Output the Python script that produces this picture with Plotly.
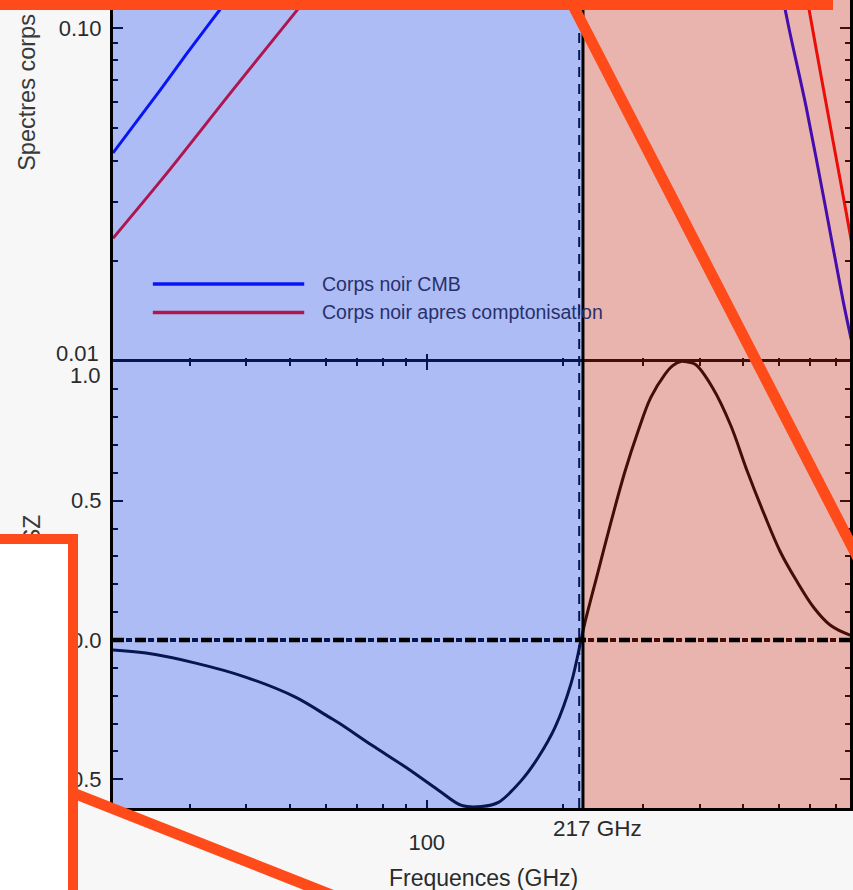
import numpy as np
import plotly.graph_objects as go

# ---------------------------------------------------------------------------
# Data (frequencies in GHz, spectra normalised to their maximum)
# ---------------------------------------------------------------------------
cmb_freq = [20.3, 25.8, 29.5, 35.3, 40, 50, 80, 130, 200, 300, 400, 500, 560,
            618.3, 634.2, 687.6, 756.9, 829.3, 859.3, 880]
cmb_spec = [0.0422, 0.0651, 0.0836, 0.1156, 0.145, 0.25, 0.55, 0.85, 1.0, 0.9,
            0.65, 0.42, 0.23, 0.1133, 0.0958, 0.0580, 0.0295, 0.01525, 0.0121,
            0.0104]

comp_freq = [20.3, 26.7, 37.3, 51.8, 60, 90, 140, 200, 300, 400, 500, 600, 650,
             698.2, 753.1, 833.5, 859.3, 880]
comp_spec = [0.0234, 0.0367, 0.0651, 0.1133, 0.145, 0.3, 0.55, 0.72, 0.85, 0.8,
             0.6, 0.33, 0.2, 0.1133, 0.0642, 0.0304, 0.0242, 0.020]

tsz_freq = [20.3, 24.0, 30.9, 39.8, 51.3, 60.9, 64.0, 75.7, 89.9, 106.3, 119.4,
            132.1, 143.9, 161.8, 176.3, 192.0, 208.3, 219.0, 223.6, 238.8, 255.1,
            273.7, 292.4, 312.3, 335.2, 349.1, 363.4, 376.5, 392.1, 427.4, 468.1,
            510.3, 556.1, 602.9, 657.0, 716.1, 776.6, 859.3, 880]
tsz_shape = [-0.036, -0.047, -0.083, -0.133, -0.205, -0.277, -0.298, -0.378,
             -0.457, -0.540, -0.594, -0.598, -0.583, -0.504, -0.421, -0.313,
             -0.155, 0.0, 0.065, 0.245, 0.424, 0.604, 0.748, 0.871, 0.953, 0.985,
             1.0, 0.998, 0.989, 0.906, 0.773, 0.604, 0.450, 0.317, 0.209, 0.115,
             0.054, 0.018, 0.014]

series_names = ["Corps noir CMB", "Corps noir apres comptonisation"]

null_freq = 217.0      # tSZ null frequency
split_freq = 221.2     # boundary between decrement / increment bands
freq_range = [20.3, 859.3]
spec_range = [0.01, 0.12132]
tsz_range = [-0.6032, 1.0]

x_ticks = [100, 1000]
x_tick_text = ["100", ""]
x_minor = [30, 40, 50, 60, 70, 80, 90, 200, 300, 400, 500, 600, 700, 800, 900]
spec_ticks = [0.01, 0.1]
spec_tick_text = ["", "0.10"]
spec_minor = [0.02, 0.03, 0.04, 0.05, 0.06, 0.07, 0.08, 0.09]
tsz_ticks = [-0.5, 0.0, 0.5, 1.0]
tsz_tick_text = ["\u22120.5", "0.0", "0.5", ""]

# ---------------------------------------------------------------------------
# Page geometry
# ---------------------------------------------------------------------------
W, H = 853, 890
L, B = 113, 82
PW, PH = W - L, H - B
SPLIT_Y = 361.5
top_dom = (PH - SPLIT_Y) / PH


def px(xp):
    return (xp - L) / PW


def py(yp):
    return (PH - yp) / PH


FONT = "Liberation Sans, Arial, Helvetica, sans-serif"
TXT = "#2b2b2b"
ORANGE = "#ff4a1a"
BLUE_VEIL = "rgba(24,64,226,0.35)"
RED_VEIL = "rgba(192,41,21,0.35)"

fig = go.Figure()

fig.add_trace(go.Scatter(x=cmb_freq, y=cmb_spec, mode="lines", name=series_names[0],
                         line=dict(color="#0000ff", width=3, shape="spline",
                                   smoothing=0.8),
                         xaxis="x", yaxis="y", showlegend=False))
fig.add_trace(go.Scatter(x=comp_freq, y=comp_spec, mode="lines", name=series_names[1],
                         line=dict(color="#ff0000", width=3, shape="spline",
                                   smoothing=0.8),
                         xaxis="x", yaxis="y", showlegend=False))
fig.add_trace(go.Scatter(x=tsz_freq, y=tsz_shape, mode="lines", name="tSZ",
                         line=dict(color="#000000", width=3, shape="spline"),
                         xaxis="x2", yaxis="y2", showlegend=False))

xlog = [np.log10(v) for v in freq_range]
ylog = [np.log10(v) for v in spec_range]

common_x = dict(type="log", range=xlog, showgrid=False, zeroline=False,
                tickmode="array", tickvals=x_ticks, ticks="inside", ticklen=8,
                tickwidth=2, tickcolor="black",
                minor=dict(tickmode="array", tickvals=x_minor, ticks="inside",
                           ticklen=4, tickwidth=2, tickcolor="black", showgrid=False))

fig.update_layout(
    width=W, height=H,
    margin=dict(l=L, r=0, t=0, b=B, pad=0),
    paper_bgcolor="#f7f7f7", plot_bgcolor="white",
    font=dict(family=FONT, size=22, color=TXT),
    xaxis=dict(common_x, domain=[0, 1], anchor="y", showticklabels=False,
               showline=False),
    yaxis=dict(type="log", range=ylog, domain=[top_dom, 1], anchor="x",
               showgrid=False, zeroline=False, tickmode="array", tickvals=spec_ticks,
               ticktext=spec_tick_text, ticks="inside", ticklen=10, tickwidth=2,
               tickcolor="black", showline=True, linewidth=3, linecolor="black",
               mirror="ticks", ticklabelstandoff=4,
               tickfont=dict(family=FONT, size=22, color=TXT),
               minor=dict(tickmode="array", tickvals=spec_minor, ticks="inside",
                          ticklen=5, tickwidth=2, tickcolor="black")),
    xaxis2=dict(common_x, domain=[0, 1], anchor="y2", ticktext=x_tick_text,
                showline=True, linewidth=3, linecolor="black", mirror="ticks",
                ticklabelstandoff=13,
                tickfont=dict(family=FONT, size=22, color=TXT)),
    yaxis2=dict(range=tsz_range, domain=[0, top_dom], anchor="x2", showgrid=False,
                zeroline=False, tickmode="array", tickvals=tsz_ticks,
                ticktext=tsz_tick_text, ticks="inside", ticklen=10, tickwidth=2,
                tickcolor="black", showline=True, linewidth=3, linecolor="black",
                mirror="ticks", ticklabelstandoff=4,
                tickfont=dict(family=FONT, size=22, color=TXT),
                minor=dict(dtick=0.1, tick0=0, ticks="inside", ticklen=5,
                           tickwidth=2, tickcolor="black")),
)

shapes = []
# legend samples (under the tinted bands)
shapes.append(dict(type="line", xref="paper", yref="paper", x0=px(153), x1=px(305),
                   y0=py(284), y1=py(284), line=dict(color="#0000ff", width=3.5),
                   layer="below"))
shapes.append(dict(type="line", xref="paper", yref="paper", x0=px(153), x1=px(305),
                   y0=py(312.5), y1=py(312.5), line=dict(color="#ff0000", width=3.5),
                   layer="below"))
# null-frequency marker and zero level (tinted)
shapes.append(dict(type="line", xref="x", yref="paper", x0=null_freq, x1=null_freq,
                   y0=0, y1=1, line=dict(color="black", width=2, dash="10px,7px"),
                   layer="below"))
shapes.append(dict(type="line", xref="paper", yref="y2", x0=0, x1=1, y0=0, y1=0,
                   line=dict(color="black", width=4, dash="0px,13px,6px,3px"),
                   layer="below"))
# translucent frequency bands
shapes.append(dict(type="rect", xref="x", yref="paper", x0=1, x1=split_freq, y0=0, y1=1,
                   fillcolor=BLUE_VEIL, line=dict(width=0), layer="above"))
shapes.append(dict(type="rect", xref="x", yref="paper", x0=split_freq, x1=1e5, y0=0, y1=1,
                   fillcolor=RED_VEIL, line=dict(width=0), layer="above"))
# band boundary and zero line on top
shapes.append(dict(type="line", xref="x", yref="paper", x0=split_freq, x1=split_freq,
                   y0=0, y1=1, line=dict(color="black", width=3), layer="above"))
shapes.append(dict(type="line", xref="paper", yref="y2", x0=0, x1=1, y0=0, y1=0,
                   line=dict(color="black", width=4.5, dash="11px,11px"), layer="above"))
# zoom callout connectors
shapes.append(dict(type="line", xref="paper", yref="paper", x0=px(572), y0=py(0),
                   x1=px(862), y1=py(560), line=dict(color=ORANGE, width=11),
                   layer="above"))
shapes.append(dict(type="line", xref="paper", yref="paper", x0=px(73), y0=py(793),
                   x1=px(335), y1=py(896), line=dict(color=ORANGE, width=11),
                   layer="above"))
fig.update_layout(shapes=shapes)

ann = []
ann.append(dict(text="Spectres corps noirs", textangle=-90, xref="paper", yref="paper",
                x=px(26.5), y=py(173), xanchor="center", yanchor="bottom",
                showarrow=False, font=dict(family=FONT, size=23.5, color="#3a3a3a")))
ann.append(dict(text="Effet SZ", textangle=-90, xref="paper", yref="paper",
                x=px(31.5), y=py(512), xanchor="center", yanchor="top",
                showarrow=False, font=dict(family=FONT, size=23, color="#3a3a3a")))
ann.append(dict(text="0.01", xref="paper", yref="paper", x=px(101), y=py(353),
                xanchor="right", yanchor="middle", showarrow=False,
                font=dict(family=FONT, size=22, color=TXT)))
ann.append(dict(text="1.0", xref="paper", yref="paper", x=px(103), y=py(375),
                xanchor="right", yanchor="middle", showarrow=False,
                font=dict(family=FONT, size=22, color=TXT)))
ann.append(dict(text=f"{int(null_freq)} GHz", xref="x2", yref="paper",
                x=np.log10(null_freq), y=py(828), xanchor="center", yanchor="middle",
                xshift=18, showarrow=False, font=dict(family=FONT, size=22.5, color=TXT)))
ann.append(dict(text="Frequences (GHz)", xref="paper", yref="paper", x=px(485),
                y=py(878), xanchor="center", yanchor="middle", showarrow=False,
                font=dict(family=FONT, size=23, color=TXT)))
for name, ypix in zip(series_names, [284, 312.5]):
    ann.append(dict(text=name, xref="paper", yref="paper", x=px(321), y=py(ypix),
                    xanchor="left", yanchor="middle", showarrow=False,
                    font=dict(family=FONT, size=19.5, color="#28306a")))
# white inset frame (bottom left) and top edge of the zoom box
ann.append(dict(text=" ", xref="paper", yref="paper", x=px(78), y=py(534),
                xanchor="right", yanchor="top", width=108, height=356,
                bgcolor="white", bordercolor=ORANGE, borderwidth=10, borderpad=0,
                showarrow=False))
ann.append(dict(text=" ", xref="paper", yref="paper", x=px(0), y=py(0),
                xanchor="left", yanchor="top", width=833, height=10,
                bgcolor=ORANGE, borderwidth=0, borderpad=0, showarrow=False))
fig.update_layout(annotations=ann)

fig.write_html("out.html")
